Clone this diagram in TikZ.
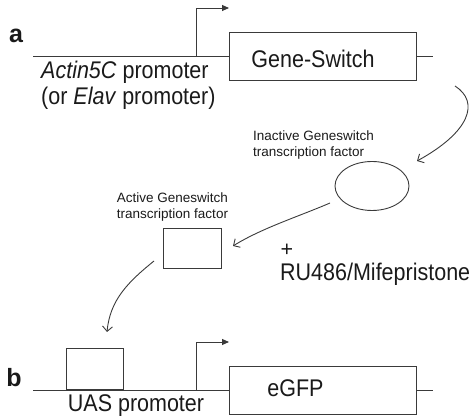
\documentclass[tikz,border=0pt]{standalone}
\usepackage{fontspec}
\setmainfont{Liberation Sans}
\usetikzlibrary{arrows.meta,shapes.geometric}
\definecolor{ink}{HTML}{1A1A1A}
\definecolor{linec}{HTML}{3A3A3A}
\newcommand{\tallt}[1]{\scalebox{1}[1.12]{#1}}
\begin{document}
\begin{tikzpicture}[x=1pt,y=-1pt,
  big/.style={font=\fontsize{21.5}{26}\selectfont, text=ink, inner sep=0pt},
  small/.style={font=\fontsize{13.5}{16}\selectfont, text=ink, inner sep=0pt},
  panel/.style={font=\fontsize{25}{28}\bfseries\selectfont, text=ink, inner sep=0pt},
  genebox/.style={draw=linec, line width=0.9pt, inner sep=0pt, fill=white},
  dna/.style={draw=linec, line width=0.9pt},
  prom/.style={draw=linec, line width=0.9pt, -{Triangle[length=7pt,width=6pt]}},
  curv/.style={draw=linec, line width=0.9pt, -{Straight Barb[length=5pt,width=10pt]}}
]
\useasboundingbox (0,0) rectangle (474,419);

% ---------- panel a ----------
\node[panel, anchor=base] (la) at (16,43) {a};
\coordinate (aL) at (33,56);
\coordinate (aR) at (433,56);
\node[genebox, minimum width=187pt, minimum height=48pt] (gs) at (322.5,56) {};
\draw[dna] (aL) -- (gs.west);
\draw[dna] (gs.east) -- (aR);
\node[big, anchor=base] (gst) at (313,68) {\tallt{Gene-Switch}};
\coordinate (pa0) at (196,56);
\coordinate (pa1) at (196,8);
\coordinate (pa2) at (229,8);
\draw[prom] (pa0) -- (pa1) -- (pa2);
\node[big, anchor=base west] (act) at (41,79) {\tallt{\textit{Actin5C} promoter}};
\node[big, anchor=base west] (elav) at (41,105) {\tallt{(or \textit{Elav} promoter)}};

% inactive factor
\node[small, anchor=base west] (in1) at (253,141) {Inactive Geneswitch};
\node[small, anchor=base west] (in2) at (253,157) {transcription factor};
\node[draw=linec, line width=0.9pt, ellipse, minimum width=74pt, minimum height=49pt, inner sep=0pt] (ell) at (372,186) {};

\coordinate (s1) at (455,86);
\coordinate (e1) at (417,161);
\draw[curv] (s1) .. controls (480,102) and (470,132) .. (e1);

% active factor
\node[small, anchor=base] (ac1) at (172.5,203) {Active Geneswitch};
\node[small, anchor=base] (ac2) at (172.5,219) {transcription factor};
\node[genebox, minimum width=58pt, minimum height=40pt] (abox) at (192,248) {};

\coordinate (s2) at (330,203);
\coordinate (e2) at (233,246);
\draw[curv] (s2) .. controls (300,216) and (262,228) .. (e2);

\node[big] (plus) at (287,250) {+};
\node[big, anchor=base west] (ru) at (280,281) {\tallt{RU486/Mifepristone}};

\coordinate (s3) at (154,261);
\coordinate (e3) at (107,332);
\draw[curv] (s3) .. controls (128,282) and (110,300) .. (e3);

% ---------- panel b ----------
\node[panel, anchor=base] (lb) at (14,387) {b};
\coordinate (bL) at (33,390);
\coordinate (bR) at (433,390);
\node[genebox, minimum width=187pt, minimum height=48pt] (eg) at (322.5,390) {};
\draw[dna] (bL) -- (eg.west);
\draw[dna] (eg.east) -- (bR);
\node[genebox, minimum width=57pt, minimum height=41pt, anchor=south] (uas) at (94.5,390) {};
\node[big, anchor=base] (egt) at (295.5,397) {\tallt{eGFP}};
\coordinate (pb0) at (196,390);
\coordinate (pb1) at (196,342);
\coordinate (pb2) at (229,342);
\draw[prom] (pb0) -- (pb1) -- (pb2);
\node[big, anchor=base] (uast) at (136,412) {\tallt{UAS promoter}};
\end{tikzpicture}
\end{document}
